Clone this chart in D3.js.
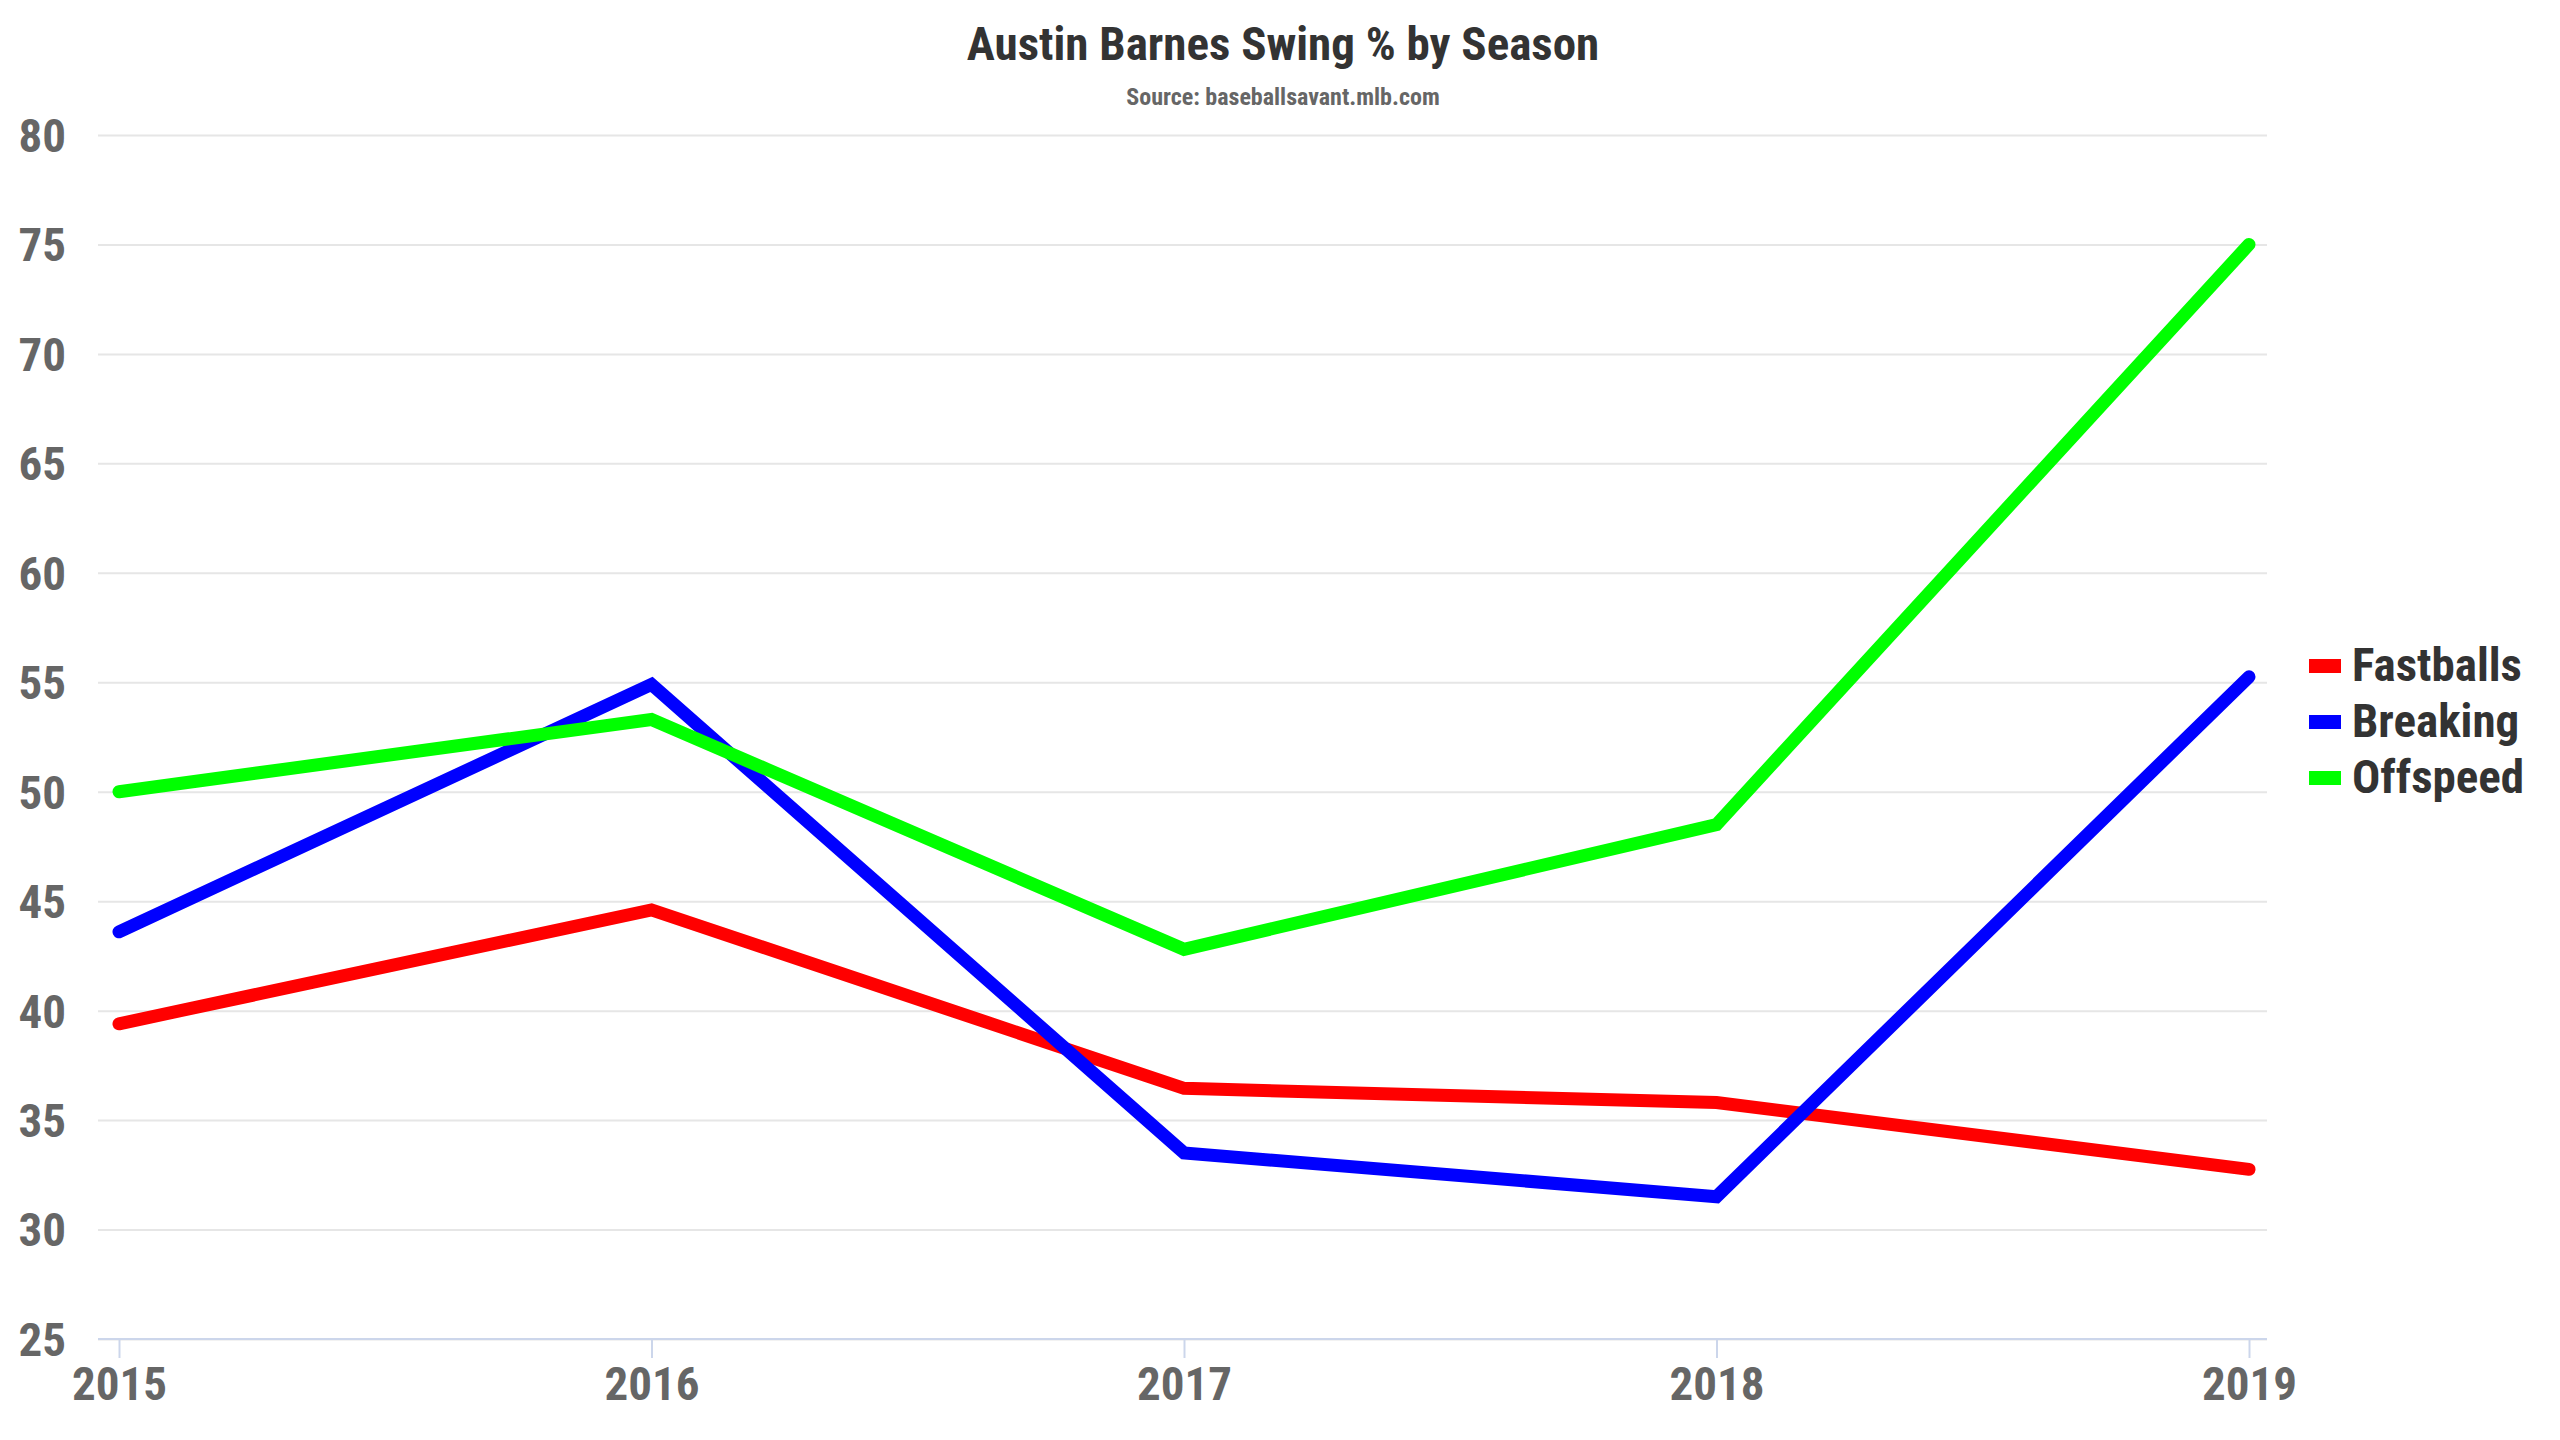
<!DOCTYPE html>
<html>
<head>
<meta charset="utf-8">
<script src="https://cdn.jsdelivr.net/npm/d3@7"></script>
<style>
  body { margin: 0; background: #fff; }
  text { font-family: "Roboto Condensed", Roboto, sans-serif; font-weight: 700; }
</style>
</head>
<body>
<script>
var years = [2015, 2016, 2017, 2018, 2019];
var fastballs = [39.4, 44.6, 36.45, 35.8, 32.75];
var breaking = [43.6, 54.9, 33.5, 31.5, 55.25];
var offspeed = [50.0, 53.3, 42.8, 48.5, 75.0];
var seriesNames = ["Fastballs", "Breaking", "Offspeed"];
var seriesColors = ["#ff0000", "#0000ff", "#00ff00"];
var yTicks = [25, 30, 35, 40, 45, 50, 55, 60, 65, 70, 75, 80];

var width = 2560, height = 1440;
var plot = {left: 98, right: 2267, top: 135, bottom: 1339};

var svg = d3.select("body").append("svg")
    .attr("width", width).attr("height", height);

var x = d3.scaleLinear().domain([2015, 2019]).range([119, 2249]);
var y = d3.scaleLinear().domain([25, 80]).range([plot.bottom, plot.top]);

// title + source line
svg.append("text").attr("x", 1283).attr("y", 60)
    .attr("text-anchor", "middle").attr("font-size", 47).attr("fill", "#333")
    .text("Austin Barnes Swing % by Season");
svg.append("text").attr("x", 1283).attr("y", 105)
    .attr("text-anchor", "middle").attr("font-size", 24).attr("fill", "#666")
    .text("Source: baseballsavant.mlb.com");

// horizontal grid
var yAxis = d3.axisLeft(y).tickValues(yTicks)
    .tickSize(-(plot.right - plot.left)).tickPadding(32);
var gy = svg.append("g").attr("transform", "translate(" + plot.left + ",0)").call(yAxis);
gy.select(".domain").remove();
gy.selectAll(".tick line").attr("stroke", "#e6e6e6").attr("stroke-width", 2);
gy.selectAll(".tick text").attr("font-size", 47).attr("fill", "#666").attr("dy", "0.35em");

// x axis
var xAxis = d3.axisBottom(x).tickValues(years).tickFormat(d3.format("d"))
    .tickSize(19).tickPadding(9).tickSizeOuter(0);
var gx = svg.append("g").attr("transform", "translate(0," + plot.bottom + ")").call(xAxis);
gx.select(".domain").attr("d", "M" + plot.left + ",0H" + plot.right)
    .attr("stroke", "#ccd6eb").attr("stroke-width", 2);
gx.selectAll(".tick line").attr("stroke", "#ccd6eb").attr("stroke-width", 2);
gx.selectAll(".tick text").attr("font-size", 47).attr("fill", "#666");
svg.selectAll("g").attr("font-family", null);

// lines
var line = d3.line()
    .x(function(d, i) { return x(years[i]); })
    .y(function(d) { return y(d); });

var allSeries = [fastballs, breaking, offspeed];
svg.selectAll(".series").data(allSeries).enter().append("path")
    .attr("class", "series")
    .attr("d", line)
    .attr("fill", "none")
    .attr("stroke", function(d, i) { return seriesColors[i]; })
    .attr("stroke-width", 13)
    .attr("stroke-linejoin", "miter")
    .attr("stroke-linecap", "round");

// legend
var legend = svg.selectAll(".legend").data(seriesNames).enter().append("g")
    .attr("class", "legend")
    .attr("transform", function(d, i) { return "translate(2309," + (666 + i * 56) + ")"; });
legend.append("rect").attr("x", 0).attr("y", -7).attr("width", 32).attr("height", 14)
    .attr("fill", function(d, i) { return seriesColors[i]; });
legend.append("text").attr("x", 43).attr("y", 15)
    .attr("font-size", 47).attr("fill", "#333")
    .text(function(d) { return d; });
</script>
</body>
</html>
